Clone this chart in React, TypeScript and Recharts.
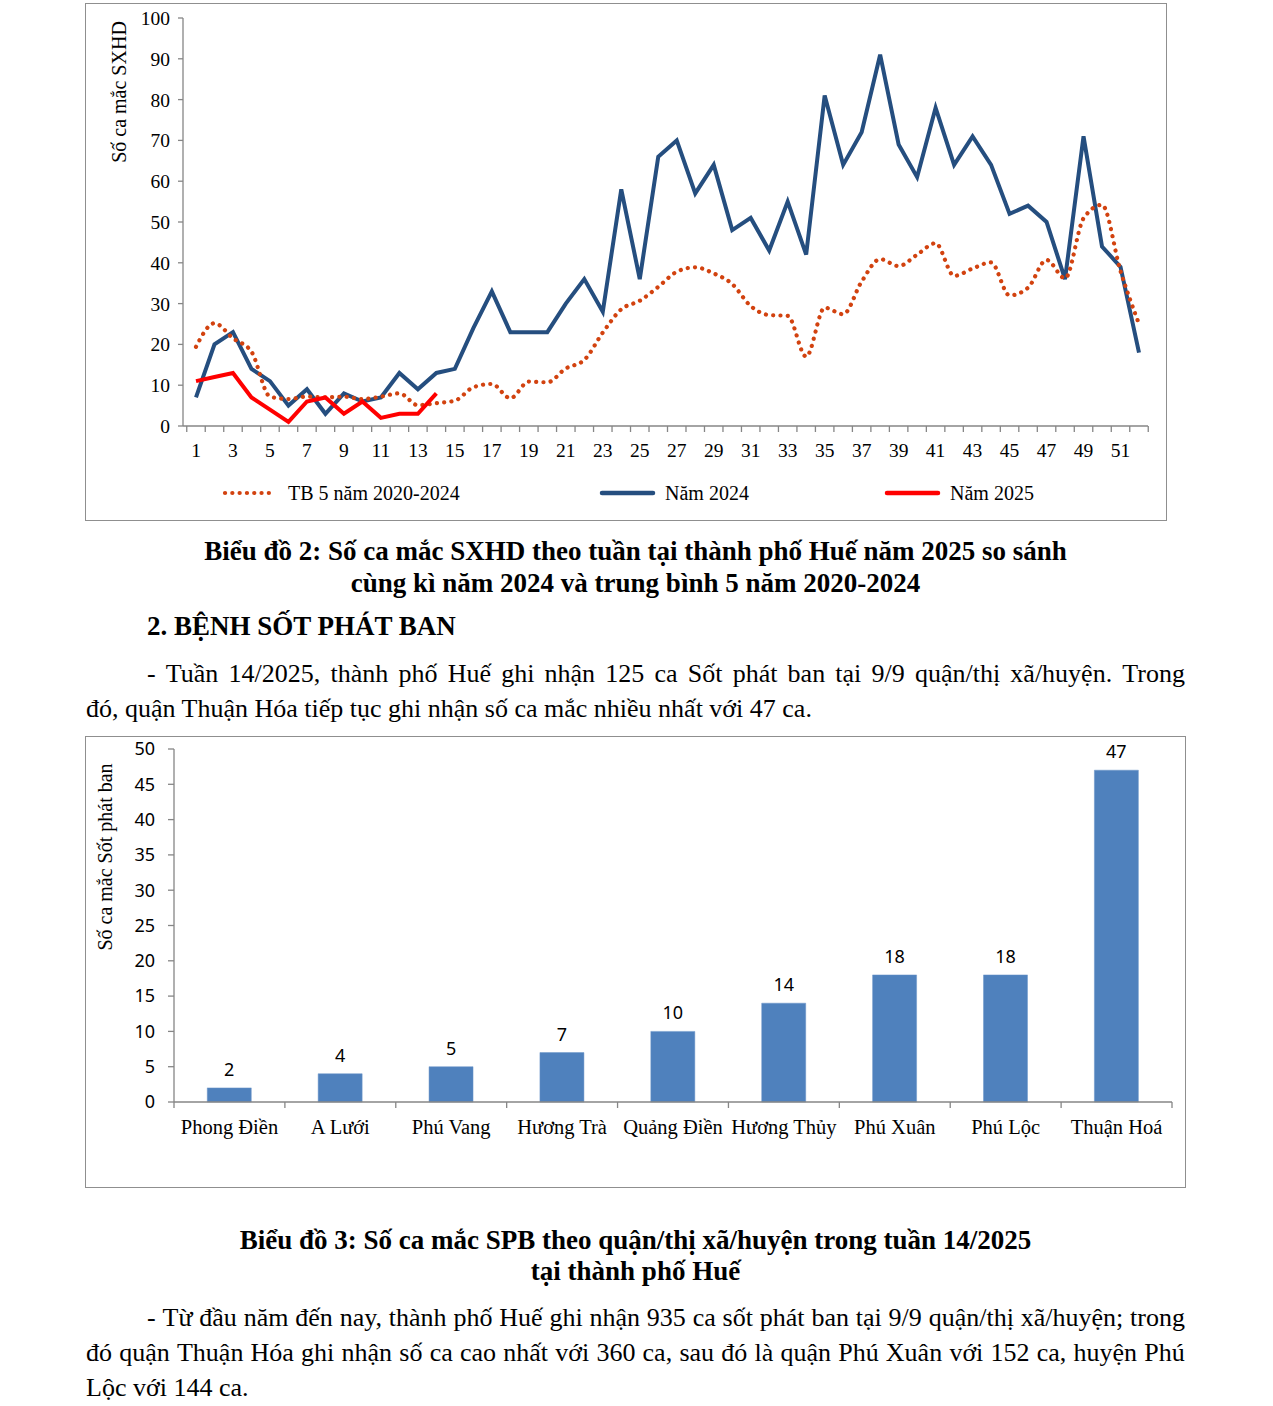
import React from 'react';
import { LineChart, Line, XAxis, YAxis, BarChart, Bar, LabelList } from 'recharts';

// Biểu đồ 2 – weekly dengue (SXHD) cases
const weeks = [
  1, 2, 3, 4, 5, 6, 7, 8, 9, 10, 11, 12, 13, 14, 15, 16, 17, 18, 19, 20, 21, 22, 23, 24, 25, 26,
  27, 28, 29, 30, 31, 32, 33, 34, 35, 36, 37, 38, 39, 40, 41, 42, 43, 44, 45, 46, 47, 48, 49, 50, 51, 52,
];
const avg5Years = [
  19.4, 25.2, 21.5, 18.2, 7.2, 6.6, 7.2, 7, 7.2, 6.6, 7.2, 8, 5.1, 5.6, 6.2, 9.5, 10.3, 6.8, 10.9, 10.7,
  14.1, 16.2, 22.9, 28.6, 30.7, 34.1, 37.8, 38.9, 37.4, 34.8, 29.4, 27.2, 27, 17, 29, 27.4, 35.4, 40.9,
  39.2, 42, 44.8, 36.8, 38.6, 40.1, 32, 33.9, 40.7, 36.2, 50.9, 54.2, 38, 25,
];
const cases2024 = [
  7, 20, 23, 14, 11, 5, 9, 3, 8, 6, 7, 13, 9, 13, 14, 24, 33, 23, 23, 23, 30, 36, 28, 58, 36, 66, 70, 57,
  64, 48, 51, 43, 55, 42, 81, 64, 72, 91, 69, 61, 78, 64, 71, 64, 52, 54, 50, 36, 71, 44, 39, 18,
];
const cases2025 = [11, 12, 13, 7, 4, 1, 6, 7, 3, 6, 2, 3, 3, 8];
const dengueTicks = [0, 10, 20, 30, 40, 50, 60, 70, 80, 90, 100];

// Biểu đồ 3 – rash fever (SPB) cases by district, week 14/2025
const districts = [
  'Phong Điền', 'A Lưới', 'Phú Vang', 'Hương Trà', 'Quảng Điền', 'Hương Thủy', 'Phú Xuân', 'Phú Lộc', 'Thuận Hoá',
];
const rashCases = [2, 4, 5, 7, 10, 14, 18, 18, 47];
const rashTicks = [0, 5, 10, 15, 20, 25, 30, 35, 40, 45, 50];

const dengueSeries = [
  { key: 'avg', name: 'TB 5 năm 2020-2024', color: '#D2420F', dotted: true },
  { key: 'y2024', name: 'Năm 2024', color: '#254E7F', dotted: false },
  { key: 'y2025', name: 'Năm 2025', color: '#FF0000', dotted: false },
];

const lineData = weeks.map((w, i) => ({
  week: w,
  avg: avg5Years[i],
  y2024: cases2024[i],
  y2025: i < cases2025.length ? cases2025[i] : null,
}));

const barData = districts.map((d, i) => ({ district: d, cases: rashCases[i] }));

const SERIF = '"Liberation Serif", "Times New Roman", serif';
const SANS = '"Noto Sans", "Liberation Sans", sans-serif';
const AXIS = '#868686';

const VerticalTitle = (props: any) => {
  const { titleX, titleY, text } = props;
  return (
    <text
      x={titleX}
      y={titleY}
      transform={`rotate(-90 ${titleX} ${titleY})`}
      textAnchor="middle"
      dominantBaseline="central"
      fontFamily={SERIF}
      fontSize={20}
      fill="#000"
    >
      {text}
    </text>
  );
};

// week ticks: marks between categories, label every other week
const WEEK_STEP = 943 / 51;
const WeekTick = (props: any) => {
  const { x, y, payload, index } = props;
  const half = WEEK_STEP / 2;
  const last = index === weeks.length - 1;
  return (
    <g>
      <line x1={x - half} x2={x - half} y1={y} y2={y + 6} stroke={AXIS} strokeWidth={1.3} />
      {last && <line x1={x + half} x2={x + half} y1={y} y2={y + 6} stroke={AXIS} strokeWidth={1.3} />}
      {payload.value % 2 === 1 && (
        <text x={x} y={y + 31} textAnchor="middle" fontFamily={SERIF} fontSize={19.5} fill="#000">
          {payload.value}
        </text>
      )}
    </g>
  );
};

const DISTRICT_STEP = 998 / 9;
const DistrictTick = (props: any) => {
  const { x, y, payload, index } = props;
  const half = DISTRICT_STEP / 2;
  const last = index === districts.length - 1;
  return (
    <g>
      <line x1={x - half} x2={x - half} y1={y} y2={y + 6} stroke={AXIS} strokeWidth={1.3} />
      {last && <line x1={x + half} x2={x + half} y1={y} y2={y + 6} stroke={AXIS} strokeWidth={1.3} />}
      <text x={x} y={y + 32} textAnchor="middle" fontFamily={SERIF} fontSize={20.5} fill="#000">
        {payload.value}
      </text>
    </g>
  );
};

const JustifiedLine = ({ text, left, right, top, last = false, bold = false, size = 26 }: any) => {
  const style: React.CSSProperties = {
    position: 'absolute',
    left,
    top,
    width: right - left,
    fontFamily: SERIF,
    fontSize: size,
    lineHeight: '30px',
    fontWeight: bold ? 'bold' : 'normal',
    whiteSpace: 'nowrap',
    color: '#000',
  };
  if (last) return <div style={style}>{text}</div>;
  const words = text.split(' ');
  return (
    <div style={{ ...style, display: 'flex', justifyContent: 'space-between', columnGap: 4 }}>
      {words.map((w: string, i: number) => (
        <span key={i}>{w}</span>
      ))}
    </div>
  );
};

const Centered = ({ text, top, bold = true, size = 27 }: any) => (
  <div
    style={{
      position: 'absolute',
      left: 86,
      top,
      width: 1099,
      textAlign: 'center',
      fontFamily: SERIF,
      fontSize: size,
      lineHeight: '30px',
      fontWeight: bold ? 'bold' : 'normal',
      whiteSpace: 'nowrap',
    }}
  >
    {text}
  </div>
);

const Frame = ({ left, top, width, height }: any) => (
  <div
    style={{
      position: 'absolute',
      left: left - 1,
      top: top - 1,
      width,
      height,
      border: '1.5px solid #8f8f8f',
      pointerEvents: 'none',
    }}
  />
);

const legendX = [136, 513, 798];

export default function App() {
  return (
    <div style={{ position: 'absolute', left: 0, top: 0, width: 1273, height: 1406, background: '#fff', overflow: 'hidden' }}>
      {/* Chart 2 */}
      <div style={{ position: 'absolute', left: 86, top: 4, width: 1080, height: 516 }}>
        <LineChart width={1080} height={516} data={lineData} margin={{ top: 14, right: 18, bottom: 64, left: 37 }}>
          <XAxis
            dataKey="week"
            height={30}
            interval={0}
            padding={{ left: 13, right: 9 }}
            tickSize={0}
            tickMargin={0}
            tickLine={false}
            axisLine={{ stroke: AXIS, strokeWidth: 1.3 }}
            tick={<WeekTick />}
          />
          <YAxis
            width={60}
            domain={[0, 100]}
            ticks={dengueTicks}
            interval={0}
            tickSize={5}
            tickMargin={8}
            axisLine={{ stroke: AXIS, strokeWidth: 1.3 }}
            tickLine={{ stroke: AXIS, strokeWidth: 1.3 }}
            tick={{ fontFamily: SERIF, fontSize: 19.5, fill: '#000' }}
            label={<VerticalTitle titleX={33} titleY={88} text="Số ca mắc SXHD" />}
          />
          <Line
            type="linear"
            dataKey="y2024"
            stroke="#254E7F"
            strokeWidth={4}
            dot={false}
            activeDot={false}
            isAnimationActive={false}
          />
          <Line
            type="monotone"
            dataKey="avg"
            stroke="#D2420F"
            strokeWidth={4.2}
            strokeDasharray="0.1 7.2"
            strokeLinecap="round"
            dot={false}
            activeDot={false}
            isAnimationActive={false}
          />
          <Line
            type="linear"
            dataKey="y2025"
            stroke="#FF0000"
            strokeWidth={4}
            dot={false}
            activeDot={false}
            connectNulls={false}
            isAnimationActive={false}
          />
        </LineChart>
        {dengueSeries.map((s, i) => (
          <div key={s.key} style={{ position: 'absolute', left: legendX[i], top: 474, height: 30, display: 'flex', alignItems: 'center' }}>
            <svg width={60} height={10}>
              <line
                x1={3}
                x2={54}
                y1={5}
                y2={5}
                stroke={s.color}
                strokeWidth={s.dotted ? 4.2 : 4.5}
                strokeLinecap="round"
                strokeDasharray={s.dotted ? '0.1 7.2' : undefined}
              />
            </svg>
            <span style={{ fontFamily: SERIF, fontSize: 20, marginLeft: 6, color: '#000' }}>{s.name}</span>
          </div>
        ))}
      </div>
      <Frame left={86} top={4} width={1080} height={516} />

      <Centered text="Biểu đồ 2: Số ca mắc SXHD theo tuần tại thành phố Huế năm 2025 so sánh" top={536} />
      <Centered text="cùng kì năm 2024 và trung bình 5 năm 2020-2024" top={568} />
      <JustifiedLine text="2. BỆNH SỐT PHÁT BAN" left={147} right={1185} top={611} bold last size={27} />
      <JustifiedLine
        text="- Tuần 14/2025, thành phố Huế ghi nhận 125 ca Sốt phát ban tại 9/9 quận/thị xã/huyện. Trong"
        left={147}
        right={1185}
        top={659}
      />
      <JustifiedLine
        text="đó, quận Thuận Hóa tiếp tục ghi nhận số ca mắc nhiều nhất với 47 ca."
        left={86}
        right={1185}
        top={694}
        last
      />

      {/* Chart 3 */}
      <div style={{ position: 'absolute', left: 86, top: 737, width: 1099, height: 450 }}>
        <BarChart
          width={1099}
          height={450}
          data={barData}
          margin={{ top: 12, right: 13, bottom: 55, left: 28 }}
          barCategoryGap="30%"
        >
          <XAxis
            dataKey="district"
            height={30}
            interval={0}
            tickSize={0}
            tickMargin={0}
            tickLine={false}
            axisLine={{ stroke: AXIS, strokeWidth: 1.3 }}
            tick={<DistrictTick />}
          />
          <YAxis
            width={60}
            domain={[0, 50]}
            ticks={rashTicks}
            interval={0}
            tickSize={6}
            tickMargin={13}
            axisLine={{ stroke: AXIS, strokeWidth: 1.3 }}
            tickLine={{ stroke: AXIS, strokeWidth: 1.3 }}
            tick={{ fontFamily: SANS, fontSize: 18, fill: '#000' }}
            label={<VerticalTitle titleX={19} titleY={120} text="Số ca mắc Sốt phát ban" />}
          />
          <Bar dataKey="cases" fill="#4F81BD" stroke="#6A95C9" strokeWidth={0.5} isAnimationActive={false}>
            <LabelList
              dataKey="cases"
              position="top"
              offset={12}
              style={{ fontFamily: SANS, fontSize: 18, fill: '#000' }}
            />
          </Bar>
        </BarChart>
      </div>
      <Frame left={86} top={737} width={1099} height={450} />

      <Centered text="Biểu đồ 3: Số ca mắc SPB theo quận/thị xã/huyện trong tuần 14/2025" top={1225} />
      <Centered text="tại thành phố Huế" top={1256} />
      <JustifiedLine
        text="- Từ đầu năm đến nay, thành phố Huế ghi nhận 935 ca sốt phát ban tại 9/9 quận/thị xã/huyện; trong"
        left={147}
        right={1185}
        top={1303}
      />
      <JustifiedLine
        text="đó quận Thuận Hóa ghi nhận số ca cao nhất với 360 ca, sau đó là quận Phú Xuân với 152 ca, huyện Phú"
        left={86}
        right={1185}
        top={1338}
      />
      <JustifiedLine text="Lộc với 144 ca." left={86} right={1185} top={1373} last />
    </div>
  );
}
